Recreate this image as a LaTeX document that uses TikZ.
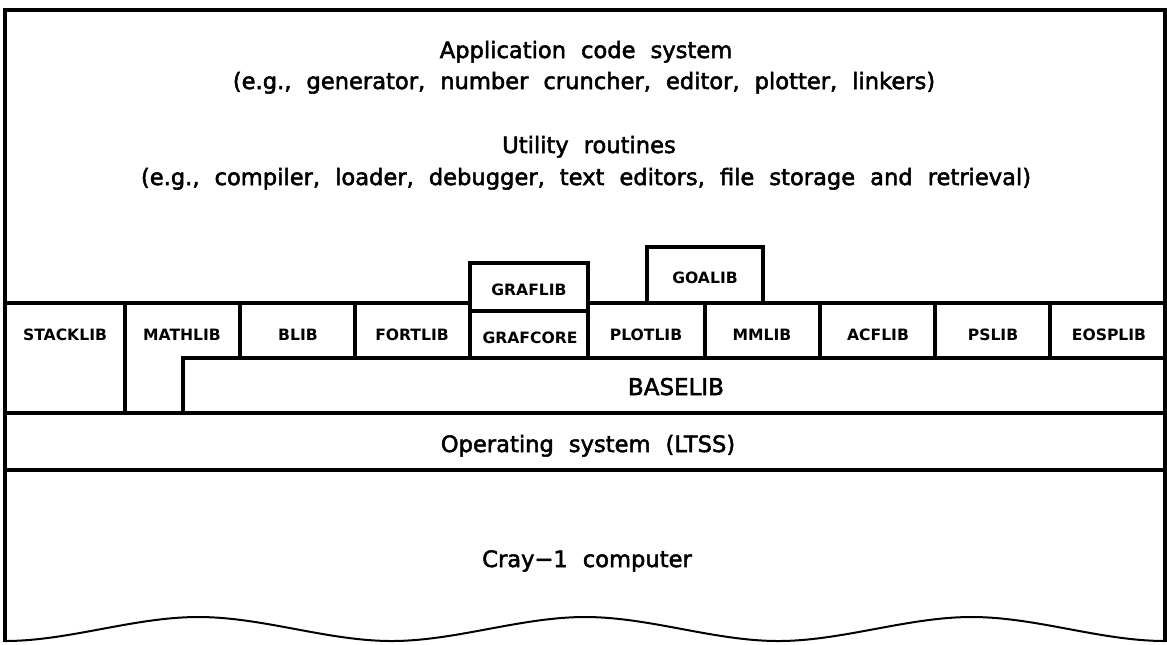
\documentclass[tikz,border=0pt]{standalone}
\usepackage{fontspec}
\setmainfont{DejaVu Sans}
\newfontfamily\lettering[UprightFeatures={FakeBold=2.2}]{DejaVu Sans}
\newcommand\layerfont{\fontsize{11.3}{13}\lettering\spaceskip=7.5pt\relax}
\begin{document}
\begin{tikzpicture}[x=0.5pt,y=-0.5pt,
  frame/.style={line width=1.7pt, line cap=rect},
  wave/.style={line width=1pt},
  libname/.style={font=\fontsize{7.8}{9}\selectfont\bfseries, inner sep=0pt, anchor=base},
  layertext/.style={font=\layerfont, inner sep=0pt, anchor=base},
  basetext/.style={font=\fontsize{11.5}{13}\lettering, inner sep=0pt, anchor=base}]
\useasboundingbox (0,0) rectangle (1167,644);

% outer frame
\draw[frame] (5,640) -- (5,10) -- (1165,10) -- (1165,640);

% upper layers
\node[layertext] (app)   at (586,58)  {Application code system};
\node[layertext] (appx)  at (584,89)  {(e.g., generator, number cruncher, editor, plotter, linkers)};
\node[layertext] (util)  at (589,153) {Utility routines};
\node[layertext] (utilx) at (586,185) {(e.g., compiler, loader, debugger, text editors, file storage and retrieval)};

% library row
\draw[frame] (5,303) -- (470,303);
\draw[frame] (588,303) -- (1165,303);
\draw[frame] (470,311) -- (470,263) -- (588,263) -- (588,311) -- cycle;
\draw[frame] (647,303) -- (647,247) -- (763,247) -- (763,303);
\draw[frame] (470,311) -- (470,358);
\draw[frame] (588,311) -- (588,358);
\draw[frame] (125,303) -- (125,413);
\foreach \x in {240,355,705,820,935,1050}
  \draw[frame] (\x,303) -- (\x,358);
\draw[frame] (183,413) -- (183,358) -- (1165,358);

\node[libname] (stacklib) at (65,340)  {STACKLIB};
\node[libname] (mathlib)  at (182,340) {MATHLIB};
\node[libname] (blib)     at (298,340) {BLIB};
\node[libname] (fortlib)  at (412,340) {FORTLIB};
\node[libname] (grafcore) at (530,343) {GRAFCORE};
\node[libname] (graflib)  at (529,295) {GRAFLIB};
\node[libname] (plotlib)  at (646,340) {PLOTLIB};
\node[libname] (goalib)   at (705,283) {GOALIB};
\node[libname] (mmlib)    at (762,340) {MMLIB};
\node[libname] (acflib)   at (878,340) {ACFLIB};
\node[libname] (pslib)    at (993,340) {PSLIB};
\node[libname] (eosplib)  at (1109,340) {EOSPLIB};

\node[basetext] (baselib) at (676,395) {BASELIB};

% operating system layer
\draw[frame] (5,413) -- (1165,413);
\node[layertext] (ltss) at (588,452) {Operating system (LTSS)};
\draw[frame] (5,470) -- (1165,470);

% hardware layer
\node[layertext] (cray) at (587,567) {Cray−1 computer};
\draw[wave] (5,641)
  \foreach \k in {0,1,2} {
    .. controls ({5+\k*386.7+64},641) and ({5+\k*386.7+129},617) .. ({5+\k*386.7+193.3},617)
    .. controls ({5+\k*386.7+258},617) and ({5+\k*386.7+322},641) .. ({5+(\k+1)*386.7},641)
  };
\end{tikzpicture}
\end{document}
